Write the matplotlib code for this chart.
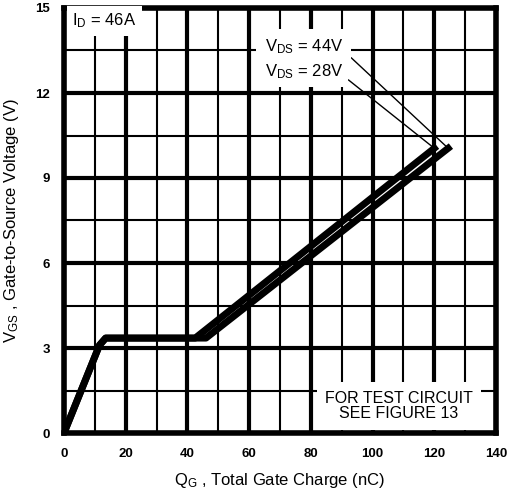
import matplotlib
matplotlib.use("Agg")
import matplotlib.pyplot as plt
from matplotlib.ticker import MultipleLocator

plt.rcParams['font.family'] = ['Liberation Sans', 'DejaVu Sans']

# Data
qg_28 = [0, 11.5, 13.5, 42.5, 120]
vgs_28 = [0, 3.1, 3.35, 3.35, 10.05]
qg_44 = [0, 11.5, 13.5, 46, 124.5]
vgs_44 = [0, 3.1, 3.35, 3.35, 10.05]
x_ticks = [0, 20, 40, 60, 80, 100, 120, 140]
y_ticks = [0, 3, 6, 9, 12, 15]

fig = plt.figure(figsize=(5.08, 4.98), dpi=100)
ax = fig.add_axes([64/508, 65/498, 432/508, 425/498])

tick_font = dict(family=['Liberation Sans Narrow', 'Liberation Sans', 'DejaVu Sans'],
                 size=9.5, weight='bold')

ax.set_xlim(0, 140)
ax.set_ylim(0, 15)
ax.set_xticks(x_ticks)
ax.set_yticks(y_ticks)
ax.set_xticklabels([str(t) for t in x_ticks], fontdict=tick_font)
ax.set_yticklabels([str(t) for t in y_ticks], fontdict=tick_font)
ax.xaxis.set_minor_locator(MultipleLocator(10))
ax.yaxis.set_minor_locator(MultipleLocator(1.5))
ax.tick_params(which='both', length=0)
ax.tick_params(axis='x', pad=11)
ax.tick_params(axis='y', pad=10)
ax.grid(which='major', color='black', lw=3.0)
ax.grid(which='minor', color='black', lw=1.5)
for s in ax.spines.values():
    s.set_linewidth(4)

ax.plot(qg_28, vgs_28, color='black', lw=5, solid_joinstyle='round', zorder=2.5)
ax.plot(qg_44, vgs_44, color='black', lw=5, solid_joinstyle='round', zorder=2.5)

ax.set_xlabel(r'$\mathregular{Q_G}$ , Total Gate Charge (nC)', fontsize=12, labelpad=8)
ax.set_ylabel(r'$\mathregular{V_{GS}}$ , Gate-to-Source Voltage (V)', fontsize=12, labelpad=10)

box = dict(facecolor='white', edgecolor='none', pad=4)
ax.text(2.6, 14.55, r'$\mathregular{I_D}$ = 46A', fontsize=12, ha='left', va='center',
        bbox=box, zorder=5)

ax.annotate(r'$\mathregular{V_{DS}}$ = 44V', xy=(qg_44[-1], vgs_44[-1]), xytext=(65, 13.65),
            fontsize=12, ha='left', va='center', zorder=5,
            bbox=dict(facecolor='white', edgecolor='none', pad=6),
            arrowprops=dict(arrowstyle='-', color='black', lw=1.0, shrinkA=0, shrinkB=0,
                            relpos=(1.0, 0.3)))
ax.annotate(r'$\mathregular{V_{DS}}$ = 28V', xy=(qg_28[-1], vgs_28[-1]), xytext=(65, 12.75),
            fontsize=12, ha='left', va='center', zorder=5,
            bbox=dict(facecolor='white', edgecolor='none', pad=4),
            arrowprops=dict(arrowstyle='-', color='black', lw=1.0, shrinkA=0, shrinkB=0,
                            relpos=(1.0, 0.3)))

ax.text(108.5, 0.95, 'FOR TEST CIRCUIT\nSEE FIGURE 13', fontsize=11.5, ha='center', va='center',
        linespacing=1.05, bbox=dict(facecolor='white', edgecolor='none', pad=6), zorder=5)

fig.savefig('out.png', dpi=100)
